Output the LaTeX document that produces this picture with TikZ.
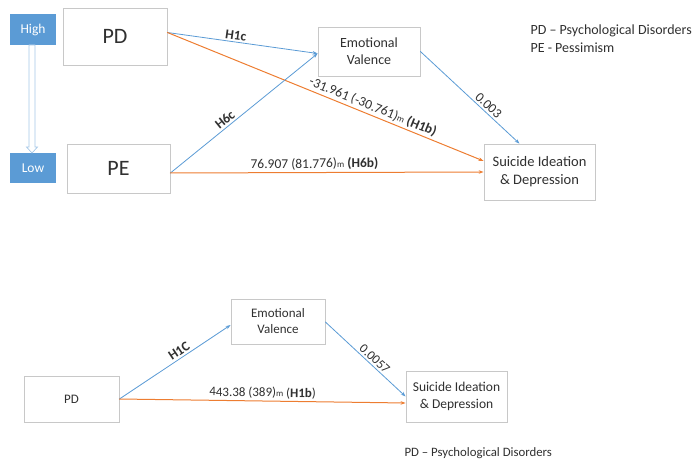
\documentclass[tikz,border=0pt]{standalone}
\usepackage{fontspec}
\setmainfont{Carlito}
\usetikzlibrary{arrows.meta}
\definecolor{msblue}{HTML}{5B9BD5}
\definecolor{msorange}{HTML}{ED7D31}
\definecolor{boxgray}{HTML}{C8C8C8}
\definecolor{txtgray}{HTML}{303030}
\newcommand{\msub}{{\fontsize{9}{9}\selectfont m}}

\begin{document}
\begin{tikzpicture}[x=1pt, y=-1pt, line cap = round,
    varbox/.style={draw=boxgray, line width=0.8pt, fill=white, align=center, text=txtgray, inner sep=1pt},
    levelbox/.style={fill=msblue, text=white, minimum width=46pt, minimum height=31pt, font=\fontsize{13.5}{13.5}\selectfont},
    bluearrow/.style={draw=msblue, line width=0.8pt, -{Stealth[length=5pt, width=3.5pt]}},
    orangearrow/.style={draw=msorange, line width=1pt, -{Stealth[length=5pt, width=3.5pt]}},
    pathlabel/.style={sloped, above, inner sep=2pt, text=txtgray, font=\fontsize{13.5}{13.5}\selectfont}]
            \useasboundingbox (0, 0) rectangle (696, 462);
            % high / low levels
            \node[levelbox] (high) at (33, 29.5) {High};
            \node[levelbox, minimum height=30pt] (low) at (33, 168) {Low};
            \draw[draw=msblue!55, fill=white, line width=0.7pt] (29, 45) -- (35, 45) -- (35, 147) -- (37.5, 147) -- (32, 153) -- (26.5, 147) -- (29, 147) -- cycle; % hollow arrow
            % first model
            \node[varbox, minimum width=104pt, minimum height=57pt, font=\fontsize{22}{22}\selectfont] (pdA) at (115, 36.5) {PD};
            \node[varbox, minimum width=103pt, minimum height=49pt, font=\fontsize{22}{22}\selectfont] (peA) at (118.5, 168.5) {PE};
            \node[varbox, minimum width=102pt, minimum height=49pt, font=\fontsize{14}{17}\selectfont] (evA) at (369, 51.5) {Emotional\\Valence};
            \node[varbox, minimum width=111pt, minimum height=56pt, font=\fontsize{14.5}{18}\selectfont] (siA) at (539.5, 172) {Suicide Ideation\\\& Depression};
            \draw[bluearrow] ([yshift=4pt]pdA.east) -- node[pathlabel, pos=0.45] {\textbf{H1c}} ([yshift=-2pt]evA.west);
            \draw[orangearrow] ([yshift=4pt]pdA.east) -- node[pathlabel, pos=0.64] {-31.961 (-30.761)\msub{} \textbf{(H1b)}} ([yshift=11pt]siA.west);
            \draw[bluearrow] ([yshift=-4.5pt]peA.east) -- node[pathlabel, pos=0.4] {\textbf{H6c}} ([yshift=-2pt]evA.west);
            \draw[orangearrow] ([yshift=-4.5pt]peA.east) -- node[pathlabel, pos=0.46] {76.907 (81.776)\msub{} \textbf{(H6b)}} (siA.west);
            \draw[bluearrow] (evA.east) -- node[pathlabel, pos=0.64] {0.003} ([xshift=-20pt]siA.north);
            % legend
            \node[anchor=west, align=left, text=txtgray, font=\fontsize{14}{18}\selectfont] (legendA) at (527, 39) {PD -- Psychological Disorders\\PE - Pessimism};
            % second model
            \node[varbox, minimum width=95pt, minimum height=46pt, font=\fontsize{13}{13}\selectfont] (pdB) at (71.5, 399) {PD};
            \node[varbox, minimum width=94pt, minimum height=45pt, font=\fontsize{13}{16}\selectfont] (evB) at (278, 321.5) {Emotional\\Valence};
            \node[varbox, minimum width=101pt, minimum height=51pt, font=\fontsize{13.5}{17}\selectfont] (siB) at (456.5, 396.5) {Suicide Ideation\\\& Depression};
            \draw[bluearrow] (pdB.east) -- node[pathlabel, pos=0.57, font=\fontsize{13.5}{13.5}\selectfont\bfseries] {H1C} ([yshift=-3.5pt]evB.west);
            \draw[orangearrow] (pdB.east) -- node[pathlabel, pos=0.5, font=\fontsize{13}{13}\selectfont] {443.38 (389)\msub{} (\textbf{H1b})} ([yshift=-6.5pt]siB.west);
            \draw[bluearrow] ([yshift=-0.5pt]evB.east) -- node[pathlabel, pos=0.56, font=\fontsize{13}{13}\selectfont] {0.0057} (siB.west);
            \node[anchor=west, text=txtgray, font=\fontsize{12.8}{13}\selectfont] (legendB) at (401, 453) {PD -- Psychological Disorders};
        \end{tikzpicture}
\end{document}
